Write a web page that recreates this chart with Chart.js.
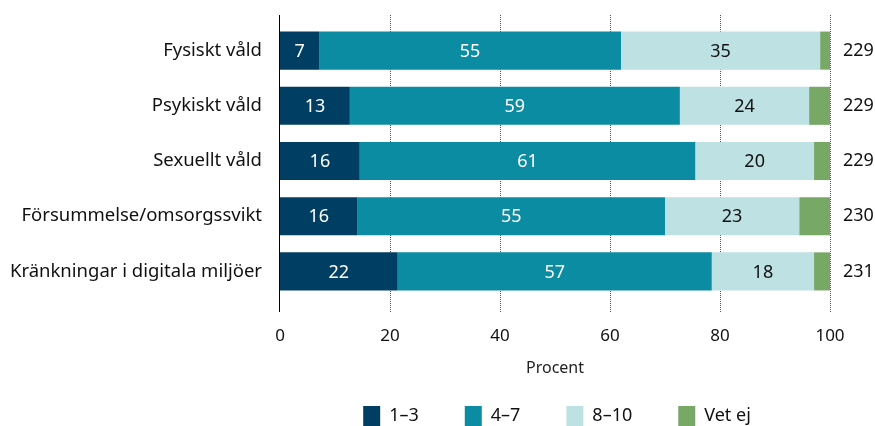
<!DOCTYPE html>
<html>
<head>
<meta charset="utf-8">
<script src="https://cdn.jsdelivr.net/npm/chart.js@4/dist/chart.umd.min.js"></script>
<style>
  body { margin: 0; background: #fff; }
  canvas { display: block; }
</style>
</head>
<body>
<canvas id="chart" width="875" height="426"></canvas>
<script>
// categories and respondent counts
const categories = ['Fysiskt våld', 'Psykiskt våld', 'Sexuellt våld', 'Försummelse/omsorgssvikt', 'Kränkningar i digitala miljöer'];
const counts = ['229', '229', '229', '230', '231'];

// bar widths (percent)
const low = [7.1, 12.7, 14.5, 14.1, 21.4];
const mid = [54.9, 60.0, 61.0, 55.9, 57.1];
const high = [36.2, 23.5, 21.6, 24.4, 18.6];
const unknown = [1.8, 3.8, 2.9, 5.6, 2.9];

// percentages printed in the bars
const lowText = [7, 13, 16, 16, 22];
const midText = [55, 59, 61, 55, 57];
const highText = [35, 24, 20, 23, 18];

const xTicks = [0, 20, 40, 60, 80, 100];

const FONT = 'Noto Sans';

// vertical lines: solid at 0, dotted elsewhere, reaching a bit past the plot area
const vLines = {
    id: 'vLines',
    beforeDatasetsDraw(chart) {
        const { ctx, chartArea, scales } = chart;
        const top = chartArea.top - 8;
        const bottom = chartArea.bottom + 13;
        ctx.save();
        ctx.lineWidth = 1;
        xTicks.forEach(v => {
            const px = Math.round(scales.x.getPixelForValue(v)) + (v === 0 ? -0.5 : 0.5);
            ctx.strokeStyle = v === 0 ? '#000' : '#555';
            ctx.setLineDash(v === 0 ? [] : [1, 1]);
            ctx.beginPath();
            ctx.moveTo(px, top);
            ctx.lineTo(px, bottom);
            ctx.stroke();
        });
        ctx.restore();
    }
};

// draws the printed numbers in the middle of each bar segment
const barText = {
    id: 'barText',
    afterDatasetsDraw(chart) {
        const ctx = chart.ctx;
        ctx.save();
        ctx.font = '18px "' + FONT + '"';
        ctx.textAlign = 'center';
        ctx.textBaseline = 'middle';
        chart.data.datasets.forEach((ds, i) => {
            if (!ds.printed) return;
            chart.getDatasetMeta(i).data.forEach((bar, j) => {
                const p = bar.getCenterPoint();
                ctx.fillStyle = ds.textColor;
                ctx.fillText(String(ds.printed[j]), p.x, p.y + 1);
            });
        });
        ctx.restore();
    }
};

// the legend needs wide gaps between items but little height
const legendLift = {
    id: 'legendLift',
    afterLayout(chart) {
        const lg = chart.legend;
        const lbl = lg.options.labels;
        lg.top = lg.bottom - lbl.padding - lbl.boxHeight;
        lg.left += 4;
    }
};

// category axes: no extra room above or below for labels
const fitSide = (w) => (scale) => {
    scale.width = w;
    scale.paddingTop = 0;
    scale.paddingBottom = 0;
};

new Chart(document.getElementById('chart'), {
    type: 'bar',
    data: {
        labels: categories,
        datasets: [
            { label: '1–3', data: low, printed: lowText, textColor: '#ffffff', backgroundColor: '#003f63' },
            { label: '4–7', data: mid, printed: midText, textColor: '#ffffff', backgroundColor: '#0b8ca3' },
            { label: '8–10', data: high, printed: highText, textColor: '#111111', backgroundColor: '#bee1e3' },
            { label: 'Vet ej', data: unknown, backgroundColor: '#78a866' },
        ],
    },
    options: {
        indexAxis: 'y',
        responsive: false,
        animation: false,
        layout: { padding: { top: 23, left: 0, right: 0, bottom: 0 } },
        datasets: { bar: { categoryPercentage: 0.69, barPercentage: 1 } },
        scales: {
            x: {
                stacked: true,
                min: 0,
                max: 100,
                afterBuildTicks: (scale) => { scale.ticks = xTicks.map(v => ({ value: v })); },
                afterFit: (scale) => { scale.height = 79; },
                grid: { display: false, drawTicks: false },
                border: { display: false },
                ticks: { font: { family: FONT, size: 17 }, color: '#111', padding: 27 },
                title: { display: true, text: 'Procent', font: { family: FONT, size: 16 }, color: '#222', padding: { top: 11, bottom: 0 } },
            },
            y: {
                stacked: true,
                afterFit: fitSide(280),
                grid: { display: false, drawTicks: false },
                border: { display: false },
                ticks: { font: { family: FONT, size: 18.5 }, color: '#111', padding: 18 },
            },
            y2: {
                type: 'category',
                position: 'right',
                labels: counts,
                afterFit: fitSide(45),
                grid: { display: false, drawTicks: false },
                border: { display: false },
                ticks: { font: { family: FONT, size: 18 }, color: '#111', padding: 13 },
            },
        },
        plugins: {
            legend: {
                position: 'bottom',
                fullSize: false,
                maxHeight: 48,
                labels: {
                    font: { family: FONT, size: 18 },
                    color: '#111',
                    boxWidth: 17,
                    boxHeight: 20,
                    padding: 46,
                },
            },
            tooltip: { enabled: false },
        },
    },
    plugins: [vLines, barText, legendLift],
});
</script>
</body>
</html>
